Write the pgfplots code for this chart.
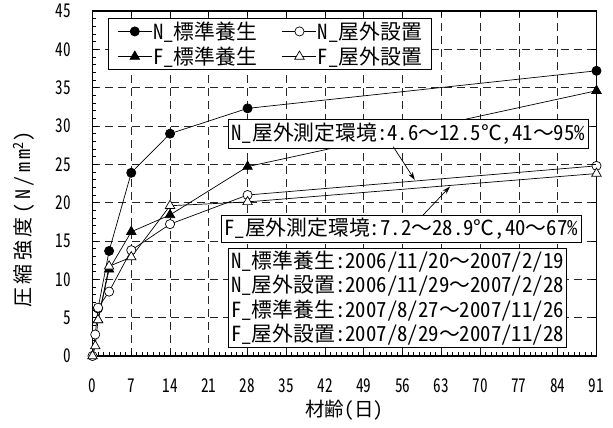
\documentclass[border=0pt]{standalone}
\usepackage{fontspec}
\usepackage{pgfplots}
\pgfplotsset{compat=1.18}
\usetikzlibrary{arrows.meta}
\setmainfont{Noto Sans CJK JP}[RawFeature=+hwid]
\newfontfamily\jp{Noto Sans CJK JP}[RawFeature=+hwid]
\newfontfamily\jpf{Noto Sans CJK JP}
\newfontfamily\jpl{Noto Sans CJK JP}[RawFeature=+hwid, LetterSpace=18]
\newfontfamily\tk{Noto Sans CJK JP}[RawFeature=+hwid, FakeStretch=0.8]
\newcommand\fw[1]{{\jpf #1}}

\begin{document}
\begin{tikzpicture}
\begin{axis}[
  name=main,
  scale only axis, width=504pt, height=345pt,
  xmin=0, xmax=91, ymin=0, ymax=45,
  xtick={0,7,...,91}, ytick={0,5,...,45},
  minor x tick num=6, minor y tick num=4,
  xtick pos=left, ytick pos=left,
  tick align=inside,
  major tick length=5pt, minor tick length=3.5pt,
  every tick/.style={black, line width=0.8pt},
  grid=major,
  major grid style={black!85, line width=0.8pt, dash pattern=on 8pt off 5pt},
  axis line style={line width=1.8pt},
  /pgf/number format/assume math mode=true,
  xticklabel style={font=\tk\fontsize{19}{19}\selectfont, yshift=-19pt},
  yticklabel style={font=\tk\fontsize{19}{19}\selectfont, xshift=-18pt},
  xlabel={材齢(日)},
  xlabel style={font=\jp\fontsize{19.5}{19.5}\selectfont, at={(rel axis cs:0.5,0)}, anchor=center, yshift=-54pt},
  ylabel={圧縮強度(N/mm\textsuperscript{2})},
  ylabel style={font=\jpl\fontsize{20}{20}\selectfont, at={(rel axis cs:0,0.395)}, anchor=center, yshift=68.5pt},
  every axis plot/.append style={black, line width=0.7pt},
  legend columns=2,
  legend style={at={(rel axis cs:0.0308,0.9797)}, anchor=north west,
    draw=black, line width=0.8pt, fill=white,
    font=\jp\fontsize{20.8}{20.8}\selectfont,
    inner xsep=9pt, inner ysep=2.5pt,
    nodes={inner sep=1pt},
    row sep=4pt,
    /tikz/every even column/.append style={column sep=24pt}},
  legend image code/.code={%
    \draw[mark repeat=2, mark phase=2] plot coordinates {(0pt,0pt) (17pt,0pt) (34pt,0pt)};},
]
% N: standard curing
\addplot[mark=*, mark size=4.6pt, mark options={fill=black}]
  coordinates {(1,6.2) (3,13.7) (7,23.9) (14,29.0) (28,32.3) (91,37.2)};
\addlegendentry{N\_標準養生}
% N: outdoor exposure
\addplot[mark=*, mark size=4.6pt, mark options={fill=white}]
  coordinates {(0,0) (0.5,2.8) (1,6.3) (3,8.4) (7,13.8) (14,17.2) (28,21.0) (91,24.8)};
\addlegendentry{N\_屋外設置}
% F: standard curing
\addplot[mark=triangle*, mark size=5.5pt, mark options={fill=black}]
  coordinates {(1,4.7) (3,11.3) (7,16.2) (14,18.4) (28,24.7) (91,34.6)};
\addlegendentry{F\_標準養生}
% F: outdoor exposure
\addplot[mark=triangle*, mark size=5.5pt, mark options={fill=white}]
  coordinates {(0,0) (0.5,1.3) (1,4.7) (3,11.7) (7,12.9) (14,19.6) (28,20.1) (91,23.8)};
\addlegendentry{F\_屋外設置}

% measurement conditions and arrows
\node[draw, fill=white, line width=0.8pt, anchor=north west, inner xsep=3pt, inner ysep=1pt,
      minimum height=29pt, font=\jp\fontsize{20.8}{20.8}\selectfont]
  at (axis cs:24.47,30.91) {N\_屋外測定環境:4.6\fw{～}12.5\fw{℃},41\fw{～}95\%};
\node[draw, fill=white, line width=0.8pt, anchor=north west, inner xsep=3pt, inner ysep=1pt,
      minimum height=26.7pt, font=\jp\fontsize{20.8}{20.8}\selectfont]
  at (axis cs:23.2,18.39) {F\_屋外測定環境:7.2\fw{～}28.9\fw{℃},40\fw{～}67\%};
\node[draw, fill=white, line width=0.8pt, anchor=north west, inner xsep=3pt, inner ysep=2pt,
      align=left, font=\jp\fontsize{20.8}{24.5}\selectfont]
  at (axis cs:24.4,14.05) {N\_標準養生:2006/11/20\fw{～}2007/2/19\\N\_屋外設置:2006/11/29\fw{～}2007/2/28\\F\_標準養生:2007/8/27\fw{～}2007/11/26\\F\_屋外設置:2007/8/29\fw{～}2007/11/28};
\draw[-{Stealth[length=8pt,width=5pt]}, line width=0.7pt]
  (axis cs:54.3,27.3) -- (axis cs:58.2,22.96);
\draw[-{Stealth[length=8pt,width=5pt]}, line width=0.7pt]
  (axis cs:59.7,18.39) -- (axis cs:64.55,22.1);
\end{axis}
% major ticks on the top and right edges
\begin{axis}[
  at={(main.south west)}, anchor=south west,
  scale only axis, width=504pt, height=345pt,
  xmin=0, xmax=91, ymin=0, ymax=45,
  xtick={0,7,...,91}, ytick={0,5,...,45},
  xtick pos=right, ytick pos=right,
  xticklabels={}, yticklabels={},
  tick align=inside, major tick length=5pt,
  every tick/.style={black, line width=0.8pt},
  axis line style={draw=none},
]
\end{axis}
\pgfresetboundingbox
\path[use as bounding box] ([xshift=-92.5pt,yshift=-72pt]main.south west) rectangle ++(613pt,428pt);
\end{tikzpicture}
\end{document}
